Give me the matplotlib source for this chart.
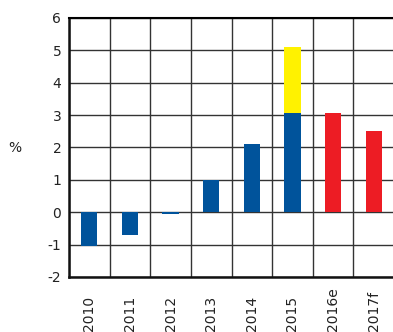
import matplotlib
matplotlib.use("Agg")
import matplotlib.pyplot as plt
import numpy as np

categories = ["2010", "2011", "2012", "2013", "2014", "2015", "2016e", "2017f"]
blue_vals = [-1.05, -0.7, -0.05, 1.0, 2.1, 3.08, 0, 0]
yellow_vals = [0, 0, 0, 0, 0, 2.02, 0, 0]
red_vals = [0, 0, 0, 0, 0, 0, 3.08, 2.5]
yticks = [-2, -1, 0, 1, 2, 3, 4, 5, 6]

plt.rcParams['font.family'] = ['DejaVu Sans']
fig = plt.figure(figsize=(3.93, 3.32), dpi=100)
ax = fig.add_axes([0.1756, 0.1657, 0.8270, 0.7801])

x = np.arange(len(categories))
w = 0.4
ax.bar(x, blue_vals, w, color="#00539B", zorder=3)
ax.bar(x, yellow_vals, w, bottom=blue_vals, color="#FFF200", zorder=3)
ax.bar(x, red_vals, w, color="#ED1C24", zorder=3)

ax.set_xlim(-0.5, len(categories) - 0.5)
ax.set_ylim(-2, 6)
ax.set_yticks(yticks)
ax.set_yticklabels([str(t) for t in yticks], fontsize=10, color="#222222")
ax.set_xticks(x)
ax.set_xticklabels(categories, rotation=90, fontsize=10, color="#222222", va='bottom')
ax.set_xticks(np.arange(len(categories) + 1) - 0.5, minor=True)
ax.tick_params(axis='both', which='both', length=0)
ax.tick_params(axis='x', pad=39)
ax.tick_params(axis='y', pad=5.5)
ax.grid(True, which='minor', axis='x', color="#333333", linewidth=1.0, zorder=1)
ax.grid(True, which='major', axis='y', color="#333333", linewidth=1.0, zorder=1)
ax.grid(False, which='major', axis='x')
for s in ['left', 'bottom']:
    ax.spines[s].set_linewidth(1.8)
    ax.spines[s].set_color("#111111")
ax.spines['top'].set_linewidth(1.5)
ax.spines['right'].set_visible(False)

fig.text(15 / 393, 1 - 148 / 332, "%", fontsize=10, color="#222222", ha='center', va='center')

fig.savefig("out.png", dpi=100)
